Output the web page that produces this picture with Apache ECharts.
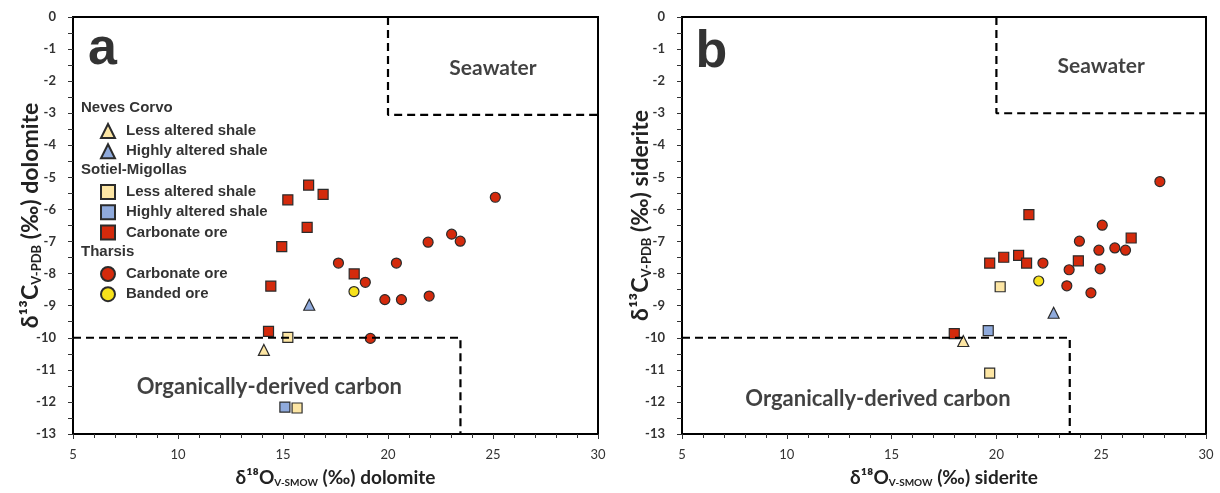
<!DOCTYPE html>
<html><head><meta charset="utf-8">
<script src="https://cdn.jsdelivr.net/npm/echarts@6/dist/echarts.min.js"></script>
<style>html,body{margin:0;padding:0;background:#fff}#c{width:1220px;height:493px}</style>
</head><body><div id="c"></div>
<script>
// ---- Panel a: dolomite (x = δ18O, y = δ13C) ----
const ncLessA = [[14.09,-10.38]];
const ncHighA = [[16.25,-8.97]];
const smLessA = [[15.23,-9.99],[15.67,-12.19]];
const smHighA = [[15.09,-12.16]];
const smOreA  = [[16.22,-5.24],[16.91,-5.53],[15.23,-5.70],[16.15,-6.56],[14.94,-7.16],[18.39,-8.01],[14.42,-8.39],[14.31,-9.80]];
const thOreA  = [[25.11,-5.62],[23.03,-6.77],[23.44,-6.99],[21.91,-7.02],[17.64,-7.67],[20.40,-7.67],[18.92,-8.27],[19.85,-8.81],[20.64,-8.81],[21.96,-8.70],[19.16,-10.02]];
const thBandA = [[18.38,-8.56]];
// ---- Panel b: siderite ----
const ncLessB = [[18.42,-10.10]];
const ncHighB = [[22.73,-9.22]];
const smLessB = [[20.18,-8.41],[19.68,-11.10]];
const smHighB = [[19.61,-9.78]];
const smOreB  = [[21.55,-6.16],[26.43,-6.89],[19.68,-7.67],[20.35,-7.49],[21.06,-7.43],[21.44,-7.67],[23.91,-7.60],[17.99,-9.87]];
const thOreB  = [[27.80,-5.13],[25.05,-6.49],[23.96,-6.99],[24.89,-7.27],[25.65,-7.20],[26.16,-7.27],[22.22,-7.67],[23.47,-7.88],[24.95,-7.85],[23.36,-8.38],[24.51,-8.60]];
const thBandB = [[22.02,-8.23]];
// ---- Field boundaries ----
const seawaterA = [[20,0],[20,-3.05],[30,-3.05]];
const organicA  = [[5,-10],[23.45,-10],[23.45,-13]];
const seawaterB = [[20,0],[20,-3],[30,-3]];
const organicB  = [[5,-10],[23.5,-10],[23.5,-13]];
// ---- Axis ranges / labels ----
const xRange = [5,30], yRange = [-13,0];
const xTitles = ['dolomite','siderite'];
const panelLetters = ['a','b'];

const groups = [
  {key:'Neves Corvo: Less altered shale', sym:'triangle', color:'#FDE6A4', a:ncLessA, b:ncLessB},
  {key:'Neves Corvo: Highly altered shale', sym:'triangle', color:'#8FAADC', a:ncHighA, b:ncHighB},
  {key:'Sotiel-Migollas: Less altered shale', sym:'rect', color:'#FDE6A4', a:smLessA, b:smLessB},
  {key:'Sotiel-Migollas: Highly altered shale', sym:'rect', color:'#8FAADC', a:smHighA, b:smHighB},
  {key:'Sotiel-Migollas: Carbonate ore', sym:'rect', color:'#D42A0C', a:smOreA, b:smOreB},
  {key:'Tharsis: Carbonate ore', sym:'circle', color:'#D42A0C', a:thOreA, b:thOreB},
  {key:'Tharsis: Banded ore', sym:'circle', color:'#F7E21B', a:thBandA, b:thBandB}
];

const chart = echarts.init(document.getElementById('c'));
const FONT = 'Lato';
function richFor(fs){
  return {
    n:{fontFamily:FONT,fontSize:fs,fontWeight:'bold',color:'#222'},
    s:{fontFamily:FONT,fontSize:Math.round(fs*0.55),fontWeight:'bold',color:'#222',padding:[Math.round(fs*0.5),0,0,0]}
  };
}
function xAxis(i){
  return {gridIndex:i,type:'value',min:xRange[0],max:xRange[1],interval:5,
    axisLine:{onZero:false,lineStyle:{color:'#000',width:2}},
    axisTick:{length:5,lineStyle:{color:'#333'}},
    minorTick:{show:true,splitNumber:5,length:4,lineStyle:{color:'#333'}},
    splitLine:{show:false},
    axisLabel:{margin:14,fontFamily:FONT,fontSize:13,color:'#333'},
    name:'{n|δ¹⁸O}{s|V-SMOW}{n| (‰) '+xTitles[i]+'}',nameLocation:'middle',nameGap:34,nameMoveOverlap:false,
    nameTextStyle:{rich:richFor(19)}};
}
function yAxis(i){
  return {gridIndex:i,type:'value',min:yRange[0],max:yRange[1],interval:1,
    axisLine:{onZero:false,lineStyle:{color:'#000',width:2}},
    axisTick:{length:5,lineStyle:{color:'#333'}},
    minorTick:{show:true,splitNumber:2,length:5,lineStyle:{color:'#333'}},
    splitLine:{show:false},
    axisLabel:{margin:17,fontFamily:FONT,fontSize:13,fontWeight:'bold',color:'#333'},
    name:'{n|δ¹³C}{s|V-PDB}{n| (‰) '+xTitles[i]+'}',nameLocation:'middle',nameGap:i===0?30:29,nameMoveOverlap:false,
    nameTextStyle:{rich:richFor(23),padding:[0,0,0,20]}};
}
const series = [];
['a','b'].forEach((p,i)=>{
  groups.forEach(g=>{
    series.push({name:g.key,type:'scatter',xAxisIndex:i,yAxisIndex:i,data:g[p],
      symbol:g.sym,symbolSize:g.sym==='triangle'?11:10,
      itemStyle:{color:g.color,borderColor:'#2b2b2b',borderWidth:1.2,opacity:1},z:3});
  });
  const sw = i===0?seawaterA:seawaterB, og = i===0?organicA:organicB;
  [sw,og].forEach(d=>series.push({type:'line',xAxisIndex:i,yAxisIndex:i,data:d,symbol:'none',silent:true,
    lineStyle:{color:'#000',width:2.2,type:[8,5]},z:5}));
  const ann = [
    {v:[25.0,i===0?-1.61:-1.55],t:'Seawater',fs:21},
    {v:[14.35,i===0?-11.52:-11.9],t:'Organically-derived carbon',fs:22},
    {v:[6.4,i===0?-1.03:-1.12],t:panelLetters[i],fs:52}
  ];
  ann.forEach(a=>series.push({type:'scatter',xAxisIndex:i,yAxisIndex:i,data:[a.v],symbolSize:0,silent:true,
    label:{show:true,position:'inside',formatter:a.t,fontFamily:a.fs===52?'Liberation Sans':FONT,fontWeight:'bold',fontSize:a.fs,color:a.fs===52?'#000':'#111'},z:6}));
});

function leg(items,top){
  return {data:items,orient:'vertical',left:100,top:top,padding:0,itemWidth:14,itemHeight:14,itemGap:4.2,
    selectedMode:false,formatter:n=>n.split(': ')[1],
    textStyle:{fontFamily:'Liberation Sans',fontWeight:'bold',fontSize:15,color:'#333',padding:[0,0,0,6]}};
}
const hdr = (t,top)=>({type:'text',left:81,top:top,style:{text:t,font:'bold 15px "Liberation Sans"',fill:'#333'}});
chart.setOption({
  animation:false,
  grid:[
    {left:73,top:17,width:525,height:417.5,show:true,borderColor:'#000',borderWidth:2},
    {left:682,top:17,width:524,height:417.5,show:true,borderColor:'#000',borderWidth:2}
  ],
  xAxis:[xAxis(0),xAxis(1)],
  yAxis:[yAxis(0),yAxis(1)],
  legend:[
    leg([groups[0].key,groups[1].key],123),
    leg([groups[2].key,groups[3].key,groups[4].key],184),
    leg([groups[5].key,groups[6].key],266)
  ],
  graphic:[hdr('Neves Corvo',100),hdr('Sotiel-Migollas',162),hdr('Tharsis',244)],
  series:series
});
</script></body></html>
